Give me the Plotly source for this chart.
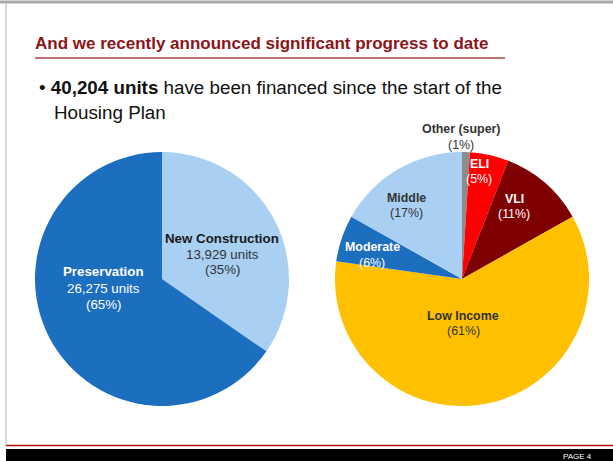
import plotly.graph_objects as go

W, H = 613, 461

# Data
left_labels = ["New Construction", "Preservation"]
left_units = [13929, 26275]
left_pct = [35, 65]
left_colors = ["#a9cff3", "#1c6ebf"]

right_labels = ["Other (super)", "ELI", "VLI", "Low Income", "Moderate", "Middle"]
right_pct = [1, 5, 11, 61, 6, 17]
right_colors = ["#8c8c8c", "#ff0000", "#7f0000", "#ffc000", "#1c6ebf", "#a9cff3"]

title_text = "And we recently announced significant progress to date"
total_units = 40204

def px(x):
    return x / W

def py(y):
    return 1 - y / H

fig = go.Figure()

fig.add_trace(go.Pie(
    labels=left_labels, values=left_units, sort=False, direction="clockwise",
    rotation=0, marker=dict(colors=left_colors, line=dict(width=0)),
    textinfo="none", hoverinfo="label+value+percent", showlegend=False,
    domain=dict(x=[px(35), px(289)], y=[py(406), py(152)]),
))
fig.add_trace(go.Pie(
    labels=right_labels, values=right_pct, sort=False, direction="clockwise",
    rotation=0, marker=dict(colors=right_colors, line=dict(width=0)),
    textinfo="none", hoverinfo="label+percent", showlegend=False,
    domain=dict(x=[px(335), px(589)], y=[py(406), py(152)]),
))

annotations = []

def add_text(x, y, text, size=12, color="#222", bold=False, xanchor="center"):
    t = f"<b>{text}</b>" if bold else text
    annotations.append(dict(
        x=px(x), y=py(y), xref="paper", yref="paper", text=t, showarrow=False,
        xanchor=xanchor, yanchor="middle",
        font=dict(family="Liberation Sans, Arial, sans-serif", size=size, color=color),
    ))

# Title
add_text(33, 44, title_text, size=17, color="#8b1418", bold=True, xanchor="left")
# Bullet
add_text(37, 88, f"• <b>{total_units:,} units</b> have been financed since the start of the",
         size=18.8, color="#111", xanchor="left")
add_text(52, 113, "Housing Plan", size=18.8, color="#111", xanchor="left")

# Left pie labels
LS = 13.3
add_text(222, 238, left_labels[0], size=LS, color="#1a1a1a", bold=True)
add_text(222, 254, f"{left_units[0]:,} units", size=LS, color="#333")
add_text(222, 269, f"({left_pct[0]}%)", size=LS, color="#333")
add_text(103, 271, left_labels[1], size=LS, color="white", bold=True)
add_text(103, 288, f"{left_units[1]:,} units", size=LS, color="white")
add_text(103, 304, f"({left_pct[1]}%)", size=LS, color="white")

# Right pie labels
RS = 12.4
right_pos = [(461, 129, 145, "#333"), (479, 164, 179, "white"), (514, 199, 214, "white"),
             (463, 316, 331, "#333"), (372, 247, 263, "white"), (406, 198, 213, "#333")]
for lab, pct, (x, y1, y2, c) in zip(right_labels, right_pct, right_pos):
    add_text(x, y1, lab, size=RS, color=c, bold=True)
    add_text(x, y2, f"({pct}%)", size=RS, color=c)

# Page label
add_text(594, 456, "PAGE 4", size=8, color="white", xanchor="right")

shapes = [
    # title underline
    dict(type="line", xref="paper", yref="paper", x0=px(35), x1=px(505), y0=py(58), y1=py(58),
         line=dict(color="#c07070", width=2)),
    # top gray border
    dict(type="line", xref="paper", yref="paper", x0=0, x1=1, y0=py(2), y1=py(2),
         line=dict(color="#a8a8a8", width=3)),
    # left gray border
    dict(type="line", xref="paper", yref="paper", x0=px(6), x1=px(6), y0=py(4), y1=py(446),
         line=dict(color="#b0b0b0", width=1)),
    # bottom red line
    dict(type="line", xref="paper", yref="paper", x0=px(6), x1=1, y0=py(445.5), y1=py(445.5),
         line=dict(color="#b01010", width=1.5)),
    # black footer bar
    dict(type="rect", xref="paper", yref="paper", x0=px(6), x1=1, y0=0, y1=py(449),
         fillcolor="black", line=dict(width=0)),
]

fig.update_layout(
    width=W, height=H, margin=dict(l=0, r=0, t=0, b=0),
    paper_bgcolor="white", plot_bgcolor="white",
    annotations=annotations, shapes=shapes,
)

fig.write_html(
    "out.html",
    config={"displayModeBar": False},
    post_script="document.body.style.margin='0';document.body.style.padding='0';document.body.style.overflow='hidden';",
)
